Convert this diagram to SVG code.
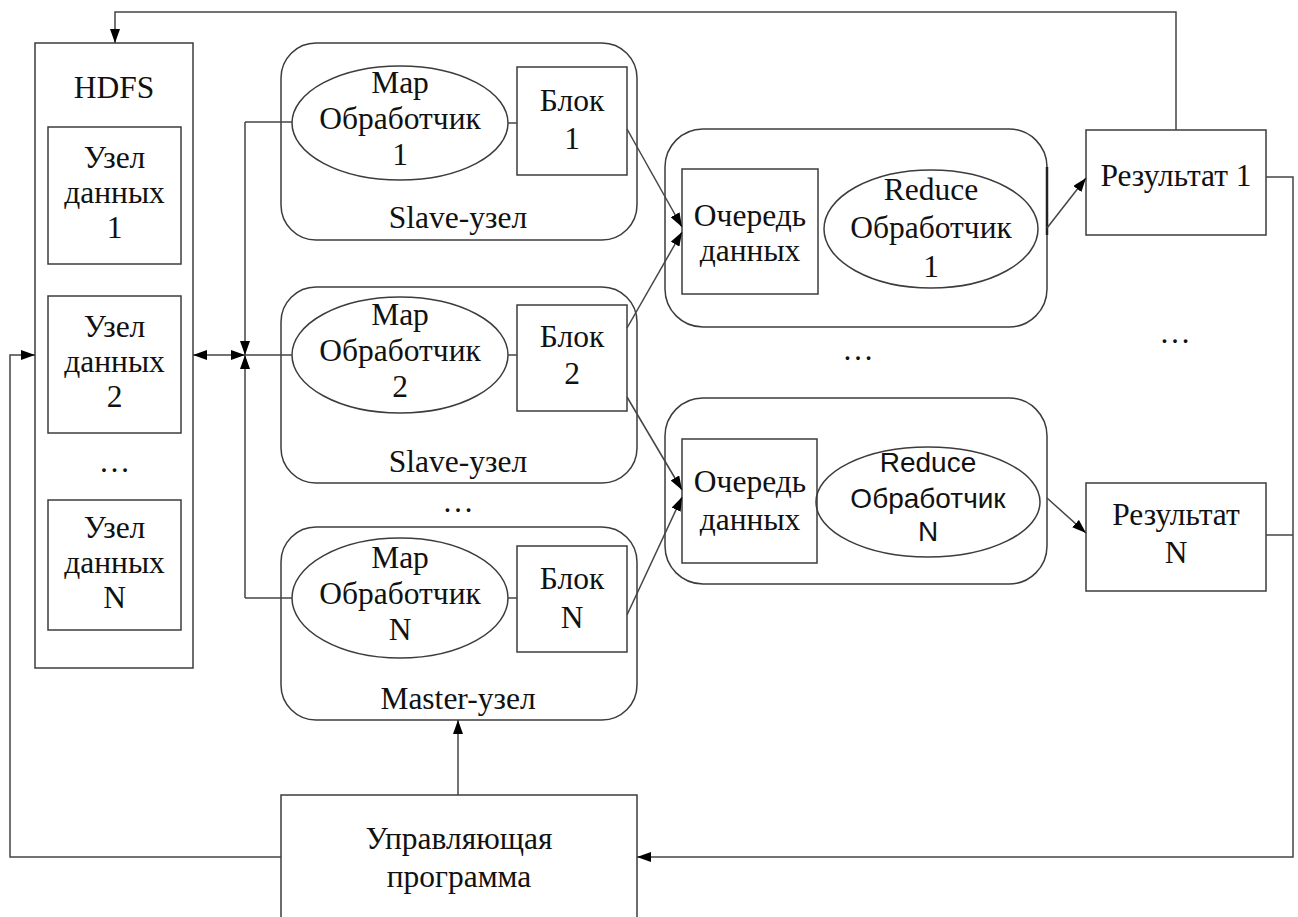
<svg xmlns="http://www.w3.org/2000/svg" width="1298" height="917" viewBox="0 0 1298 917">
<defs>
<style>
.box{fill:none;stroke:#3c3c3c;stroke-width:1.5}
.c{fill:none;stroke:#444;stroke-width:1.5}
.t{font-family:"Liberation Serif","DejaVu Serif Condensed","DejaVu Serif",serif;font-size:31.5px;fill:#111;text-anchor:middle}
.s{font-family:"Liberation Sans",Arial,sans-serif;font-size:28px;fill:#111;text-anchor:middle}
</style>
<marker id="arr" viewBox="0 0 14 10" refX="14" refY="5" markerWidth="14" markerHeight="10" orient="auto-start-reverse" markerUnits="userSpaceOnUse"><path d="M0,0 L14,5 L0,10 z" fill="#000"/></marker>
</defs>
<rect width="1298" height="917" fill="#fff"/>

<g id="hdfs">
<rect class="box" x="35" y="43" width="158" height="625"/>
<text class="t" x="114" y="98">HDFS</text>
</g>
<g id="data1">
<rect class="box" x="48" y="127" width="133" height="137"/>
<text class="t" x="114.5" y="168">Узел</text><text class="t" x="114.5" y="203">данных</text><text class="t" x="114.5" y="238">1</text>
</g>
<g id="data2">
<rect class="box" x="48" y="296" width="133" height="137"/>
<text class="t" x="114.5" y="337">Узел</text><text class="t" x="114.5" y="372">данных</text><text class="t" x="114.5" y="407">2</text>
</g>
<g id="dots-hdfs"><text class="t" x="114.5" y="472">…</text></g>
<g id="dataN">
<rect class="box" x="48" y="500" width="133" height="130"/>
<text class="t" x="114.5" y="538">Узел</text><text class="t" x="114.5" y="573">данных</text><text class="t" x="114.5" y="608">N</text>
</g>

<g id="slave1">
<rect class="box" x="281" y="43" width="356" height="197" rx="35"/>
<ellipse class="box" cx="400" cy="123" rx="108" ry="57"/>
<text class="t" x="400" y="93">Map</text><text class="t" x="400" y="129">Обработчик</text><text class="t" x="400" y="165">1</text>
<rect class="box" x="517" y="67" width="110" height="108"/>
<text class="t" x="572" y="111">Блок</text><text class="t" x="572" y="149">1</text>
<text class="t" x="458" y="228">Slave-узел</text>
</g>
<g id="slave2">
<rect class="box" x="281" y="287" width="356" height="196" rx="35"/>
<ellipse class="box" cx="400" cy="355" rx="108" ry="58"/>
<text class="t" x="400" y="325">Map</text><text class="t" x="400" y="361">Обработчик</text><text class="t" x="400" y="397">2</text>
<rect class="box" x="517" y="305" width="110" height="106"/>
<text class="t" x="572" y="347">Блок</text><text class="t" x="572" y="384">2</text>
<text class="t" x="458" y="472">Slave-узел</text>
</g>
<g id="dots-map"><text class="t" x="458" y="512">…</text></g>
<g id="master">
<rect class="box" x="281" y="527" width="356" height="193" rx="35"/>
<ellipse class="box" cx="400" cy="598" rx="108" ry="60"/>
<text class="t" x="400" y="568">Map</text><text class="t" x="400" y="604">Обработчик</text><text class="t" x="400" y="640">N</text>
<rect class="box" x="517" y="546" width="110" height="106"/>
<text class="t" x="572" y="589">Блок</text><text class="t" x="572" y="628">N</text>
<text class="t" x="458" y="709">Master-узел</text>
</g>

<g id="reduce1">
<rect class="box" x="665" y="129" width="382" height="198" rx="38"/>
<line x1="1047" y1="167" x2="1047" y2="235" stroke="#222" stroke-width="2.5"/>
<rect class="box" x="682" y="169" width="136" height="125"/>
<text class="t" x="750" y="226">Очередь</text><text class="t" x="750" y="261">данных</text>
<ellipse class="box" cx="931" cy="229" rx="107" ry="59"/>
<text class="t" x="931" y="200">Reduce</text><text class="t" x="931" y="238">Обработчик</text><text class="t" x="931" y="277">1</text>
</g>
<g id="dots-reduce"><text class="t" x="858" y="360">…</text></g>
<g id="reduceN">
<rect class="box" x="665" y="398" width="382" height="186" rx="38"/>
<rect class="box" x="682" y="439" width="135" height="124"/>
<text class="t" x="750" y="492">Очередь</text><text class="t" x="750" y="530">данных</text>
<ellipse class="box" cx="928" cy="502" rx="112" ry="55"/>
<text class="s" x="928" y="472">Reduce</text><text class="s" x="928" y="508">Обработчик</text><text class="s" x="928" y="541">N</text>
</g>

<g id="result1">
<rect class="box" x="1086" y="130" width="180" height="105"/>
<text class="t" x="1176" y="186">Результат 1</text>
</g>
<g id="dots-result"><text class="t" x="1175" y="343">…</text></g>
<g id="resultN">
<rect class="box" x="1086" y="483" width="180" height="108"/>
<text class="t" x="1176" y="525">Результат</text><text class="t" x="1176" y="563">N</text>
</g>

<g id="control">
<rect class="box" x="281" y="795" width="356" height="140"/>
<text class="t" x="459" y="849">Управляющая</text><text class="t" x="459" y="887">программа</text>
</g>

<g id="connectors">
<path class="c" d="M1176,130 V12 H115 V43" marker-end="url(#arr)"/>
<path class="c" d="M245,122 H292"/>
<path class="c" d="M245,122 V355" marker-end="url(#arr)"/>
<path class="c" d="M245,598 H292"/>
<path class="c" d="M245,598 V355" marker-end="url(#arr)"/>
<path class="c" d="M193,355 H245" marker-start="url(#arr)" marker-end="url(#arr)"/>
<path class="c" d="M245,355 H292"/>
<path class="c" d="M508,123 H517"/>
<path class="c" d="M508,355 H517"/>
<path class="c" d="M508,598 H517"/>
<path class="c" d="M627,129 L682,227" marker-end="url(#arr)"/>
<path class="c" d="M627,328 L682,232" marker-end="url(#arr)"/>
<path class="c" d="M627,397 L682,490" marker-end="url(#arr)"/>
<path class="c" d="M627,615 L682,497" marker-end="url(#arr)"/>
<path class="c" d="M1047,228 L1086,178" marker-end="url(#arr)"/>
<path class="c" d="M1047,498 L1086,533" marker-end="url(#arr)"/>
<path class="c" d="M1266,177 H1293 V857 H637" marker-end="url(#arr)"/>
<path class="c" d="M1266,535 H1293"/>
<path class="c" d="M281,857 H10 V355 H35" marker-end="url(#arr)"/>
<path class="c" d="M458,795 V720" marker-end="url(#arr)"/>
</g>
</svg>
